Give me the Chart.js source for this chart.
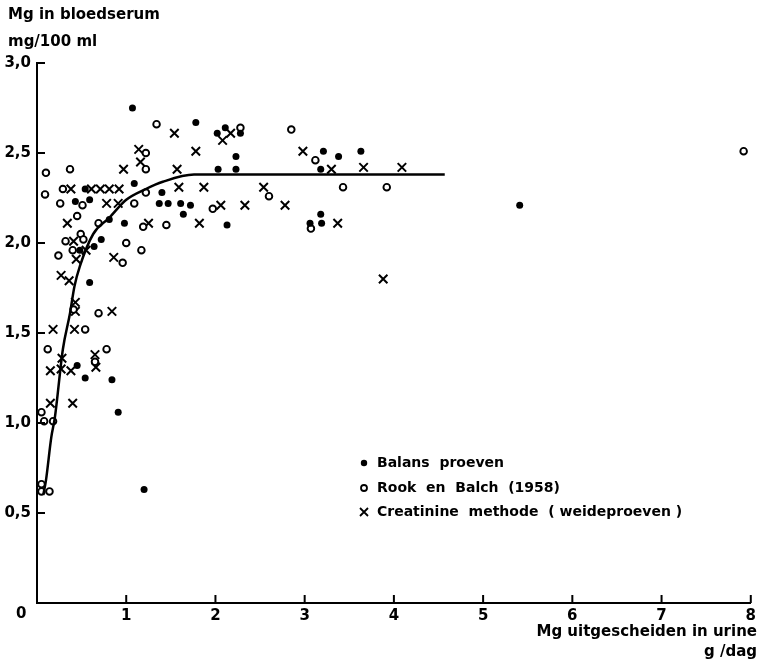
<!DOCTYPE html>
<html>
<head>
<meta charset="utf-8">
<style>
  html, body { margin: 0; padding: 0; background: #fff; }
  #wrap { width: 760px; height: 662px; }
</style>
<script src="https://cdn.jsdelivr.net/npm/chart.js@4.4.1/dist/chart.umd.min.js"></script>
</head>
<body>
<div id="wrap"><canvas id="c" width="760" height="662"></canvas></div>
<script>
// ─── Data ───────────────────────────────────────────

var balansX = [1.07, 1.78, 2.02, 2.11, 2.28, 2.23, 2.03, 2.23, 1.09, 0.54, 1.40, 0.43, 0.59,
               1.37, 1.47, 1.61, 1.72, 1.64, 2.13, 0.81, 0.98, 0.72, 0.64, 0.48, 0.59, 0.45,
               0.54, 0.84, 0.91, 1.20, 3.21, 3.38, 3.63, 3.18, 3.18, 3.06, 3.19, 5.41];
var balansY = [2.75, 2.67, 2.61, 2.64, 2.61, 2.48, 2.41, 2.41, 2.33, 2.30, 2.28, 2.23, 2.24,
               2.22, 2.22, 2.22, 2.21, 2.16, 2.10, 2.13, 2.11, 2.02, 1.98, 1.96, 1.78, 1.32,
               1.25, 1.24, 1.06, 0.63, 2.51, 2.48, 2.51, 2.41, 2.16, 2.11, 2.11, 2.21];

var rookX = [1.34, 2.28, 2.85, 1.22, 1.22, 0.10, 0.37, 0.09, 0.29, 1.22, 0.26, 0.51, 1.09,
             0.45, 0.69, 1.19, 0.32, 0.49, 0.52, 1.00, 0.24, 0.40, 0.96, 1.17, 0.41, 0.69,
             0.54, 0.12, 0.78, 0.65, 0.05, 0.08, 0.18, 0.05, 0.05, 0.14, 2.60, 1.97, 1.45,
             3.12, 3.43, 3.92, 3.07, 7.92];
var rookY = [2.66, 2.64, 2.63, 2.50, 2.41, 2.39, 2.41, 2.27, 2.30, 2.28, 2.22, 2.21, 2.22,
             2.15, 2.11, 2.09, 2.01, 2.05, 2.02, 2.00, 1.93, 1.96, 1.89, 1.96, 1.63, 1.61,
             1.52, 1.41, 1.41, 1.34, 1.06, 1.01, 1.01, 0.66, 0.62, 0.62, 2.26, 2.19, 2.10,
             2.46, 2.31, 2.31, 2.08, 2.51];

var creatX = [1.54, 2.17, 2.08, 1.14, 1.78, 1.16, 0.97, 1.57, 0.38, 0.61, 0.71, 0.81, 0.92,
              1.59, 1.87, 2.54, 0.78, 0.91, 2.06, 2.33, 2.78, 0.34, 1.25, 1.82, 0.41, 0.55,
              0.44, 0.86, 0.27, 0.36, 0.43, 0.43, 0.84, 0.18, 0.42, 0.28, 0.65, 0.66, 0.15,
              0.27, 0.38, 0.15, 0.40, 2.98, 3.30, 3.66, 4.09, 3.37, 3.88];
var creatY = [2.61, 2.61, 2.57, 2.52, 2.51, 2.45, 2.41, 2.41, 2.30, 2.30, 2.30, 2.30, 2.30,
              2.31, 2.31, 2.31, 2.22, 2.22, 2.21, 2.21, 2.21, 2.11, 2.11, 2.11, 2.01, 1.96,
              1.91, 1.92, 1.82, 1.79, 1.67, 1.62, 1.62, 1.52, 1.52, 1.36, 1.38, 1.31, 1.29,
              1.30, 1.29, 1.11, 1.11, 2.51, 2.41, 2.42, 2.42, 2.11, 1.80];

var curveX = [0.07, 0.10, 0.16, 0.20, 0.29, 0.37, 0.42, 0.48, 0.63, 0.81, 1.00, 1.22, 1.41, 1.76, 2.00, 4.57];
var curveY = [0.60, 0.68, 0.92, 1.03, 1.41, 1.61, 1.76, 1.87, 2.05, 2.14, 2.24, 2.30, 2.34, 2.38, 2.38, 2.38];

var xTicks = [1, 2, 3, 4, 5, 6, 7, 8];
var yTicks = [0.5, 1.0, 1.5, 2.0, 2.5, 3.0];

var yTitle = ['Mg in bloedserum', 'mg/100 ml'];
var xTitle = ['Mg uitgescheiden in urine', 'g /dag'];
var legendLabels = ['Balans  proeven', 'Rook  en  Balch  (1958)', 'Creatinine  methode  ( weideproeven )'];

// ─── Helpers ─────────────────────────────────────────

function pairs(xs, ys) {
    return xs.map(function(x, i) { return { x: x, y: ys[i] }; });
}

var FONT = 'bold 15px "DejaVu Sans"';
var INK  = '#000';

// ─── Decorations: inward ticks, titles, legend ──────

var extras = {
    id: 'extras',
    afterDraw: function(chart) {
        var ctx = chart.ctx;
        var xs = chart.scales.x, ys = chart.scales.y;
        var left = chart.chartArea.left, bottom = chart.chartArea.bottom;

        ctx.save();
        ctx.strokeStyle = INK;
        ctx.lineWidth = 2;
        ctx.beginPath();
        xTicks.forEach(function(v) {
            var px = xs.getPixelForValue(v);
            ctx.moveTo(px, bottom);
            ctx.lineTo(px, bottom - 8);
        });
        yTicks.forEach(function(v) {
            var py = ys.getPixelForValue(v);
            ctx.moveTo(left, py);
            ctx.lineTo(left + 8, py);
        });
        ctx.stroke();

        ctx.fillStyle = INK;
        ctx.font = FONT;
        ctx.textBaseline = 'middle';
        ctx.textAlign = 'left';
        ctx.fillText('0', 16, 614);
        ctx.fillText(yTitle[0], 8, 15);
        ctx.fillText(yTitle[1], 8, 42);

        ctx.textAlign = 'right';
        ctx.fillText(xTitle[0], 757, 632);
        ctx.fillText(xTitle[1], 757, 652);

        // legend
        ctx.font = 'bold 14px "DejaVu Sans"';
        ctx.textAlign = 'left';
        var ly = [463, 488, 512];
        ctx.beginPath();
        ctx.arc(364, ly[0], 3.2, 0, Math.PI * 2);
        ctx.fill();
        ctx.beginPath();
        ctx.lineWidth = 1.8;
        ctx.arc(364, ly[1], 3, 0, Math.PI * 2);
        ctx.stroke();
        ctx.beginPath();
        ctx.moveTo(360, ly[2] - 4); ctx.lineTo(368, ly[2] + 4);
        ctx.moveTo(368, ly[2] - 4); ctx.lineTo(360, ly[2] + 4);
        ctx.stroke();
        legendLabels.forEach(function(t, i) { ctx.fillText(t, 377, ly[i]); });
        ctx.restore();
    }
};

// ─── Chart ───────────────────────────────────────────

new Chart(document.getElementById('c').getContext('2d'), {
    type: 'scatter',
    data: {
        datasets: [
            {
                label: 'curve',
                data: pairs(curveX, curveY),
                showLine: true,
                borderColor: INK,
                borderWidth: 2.5,
                pointRadius: 0,
                cubicInterpolationMode: 'monotone',
                fill: false
            },
            {
                label: legendLabels[0],
                data: pairs(balansX, balansY),
                pointStyle: 'circle',
                pointRadius: 3.5,
                backgroundColor: INK,
                borderColor: INK,
                borderWidth: 0
            },
            {
                label: legendLabels[1],
                data: pairs(rookX, rookY),
                pointStyle: 'circle',
                pointRadius: 3.3,
                backgroundColor: '#fff',
                borderColor: INK,
                borderWidth: 1.9
            },
            {
                label: legendLabels[2],
                data: pairs(creatX, creatY),
                pointStyle: 'crossRot',
                pointRadius: 6,
                borderColor: INK,
                borderWidth: 2
            }
        ]
    },
    options: {
        responsive: false,
        animation: false,
        devicePixelRatio: 1,
        layout: { padding: { left: 0, right: 5, top: 63, bottom: 29 } },
        plugins: {
            legend: { display: false },
            tooltip: { enabled: false }
        },
        scales: {
            x: {
                type: 'linear', min: 0, max: 8,
                afterFit: function(s) { s.height = 30; },
                grid: { display: false, drawTicks: false },
                border: { display: true, color: INK, width: 2 },
                ticks: {
                    stepSize: 1, padding: 4, color: INK, font: { family: 'DejaVu Sans', size: 15, weight: 'bold' },
                    maxRotation: 0,
                    callback: function(v) { return v === 0 ? '' : String(v); }
                }
            },
            y: {
                type: 'linear', min: 0, max: 3,
                afterFit: function(s) { s.width = 37; },
                grid: { display: false, drawTicks: false },
                border: { display: true, color: INK, width: 2 },
                ticks: {
                    stepSize: 0.5, padding: 6, color: INK, font: { family: 'DejaVu Sans', size: 15, weight: 'bold' },
                    callback: function(v) { return v === 0 ? '' : v.toFixed(1).replace('.', ','); }
                }
            }
        }
    },
    plugins: [extras]
});
</script>
</body>
</html>
